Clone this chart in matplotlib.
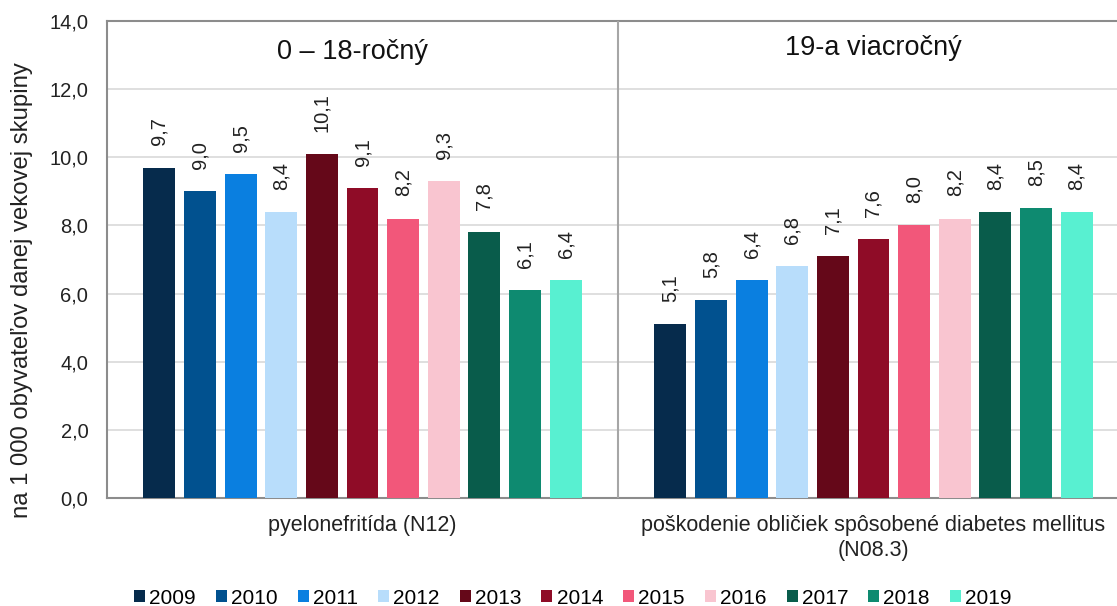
import numpy as np
import matplotlib
matplotlib.use("Agg")
import matplotlib.pyplot as plt
from matplotlib.patches import Patch

plt.rcParams["font.family"] = ["Liberation Sans", "DejaVu Sans"]

years = ["2009", "2010", "2011", "2012", "2013", "2014", "2015", "2016", "2017", "2018", "2019"]
categories = ["pyelonefritída (N12)",
              "poškodenie obličiek spôsobené diabetes mellitus\n(N08.3)"]
panel_titles = ["0 – 18-ročný", "19-a viacročný"]
values_0_18 = [9.7, 9.0, 9.5, 8.4, 10.1, 9.1, 8.2, 9.3, 7.8, 6.1, 6.4]
values_19 = [5.1, 5.8, 6.4, 6.8, 7.1, 7.6, 8.0, 8.2, 8.4, 8.5, 8.4]
colors = ["#062b4c", "#01518f", "#0a7fe0", "#b8ddfb", "#650819", "#8f0c27",
          "#f2577a", "#f9c5d0", "#095c4b", "#0e8a70", "#58f0d1"]

fig = plt.figure(figsize=(11.17, 6.06), dpi=100)
ax = fig.add_axes([107 / 1117, 1 - 498 / 606, (1129 - 107) / 1117, (498 - 21) / 606])

step = 0.0795
width = 0.0626
data = [values_0_18, values_19]
for g, vals in enumerate(data):
    for i, v in enumerate(vals):
        x = g + (i - 5) * step
        ax.bar(x, v, width=width, color=colors[i], zorder=3)
        ax.annotate(f"{v:.1f}".replace(".", ","), (x, v), xytext=(0, 16),
                    textcoords="offset points", rotation=90, ha="center",
                    va="bottom", fontsize=14.5, color="#222222")

ax.set_xlim(-0.5, 1.5)
ax.set_ylim(0, 14)
ax.set_yticks(np.arange(0, 14.1, 2))
ax.set_yticklabels([f"{t:.1f}".replace(".", ",") for t in np.arange(0, 14.1, 2)])
ax.set_xticks([0, 1])
ax.set_xticklabels(categories, linespacing=1.25)
ax.tick_params(axis="both", length=0, colors="#222222")
ax.tick_params(axis="x", pad=12, labelsize=15.5)
ax.tick_params(axis="y", pad=13.5, labelsize=14.5)
ax.grid(axis="y", color="#d9d9d9", linewidth=1.2, zorder=0)
for s in ["left", "bottom", "top"]:
    ax.spines[s].set_color("#8c8c8c")
    ax.spines[s].set_linewidth(1.5)
ax.spines["right"].set_visible(False)
ax.axvline(0.5, color="#a6a6a6", linewidth=1.5, zorder=4)

ax.text(-0.02, 13.09, panel_titles[0], ha="center", va="center", fontsize=19.5, color="#111111")
ax.text(1.0, 13.2, panel_titles[1], ha="center", va="center", fontsize=19.5, color="#111111")

ax.set_ylabel("na 1 000 obyvateľov danej vekovej skupiny", fontsize=17.2, color="#222222")
ax.yaxis.set_label_coords((33 - 107) / 1022, (498 - 290) / 477)

handles = [Patch(facecolor=c, label=y) for c, y in zip(colors, years)]
fig.legend(handles=handles, loc="center", bbox_to_anchor=(573 / 1117, 1 - 598 / 606),
           ncol=11, frameon=False, fontsize=15, handlelength=0.53, handleheight=0.53,
           handletextpad=0.2, columnspacing=0.96, borderpad=0)

fig.savefig("out.png", dpi=100)
